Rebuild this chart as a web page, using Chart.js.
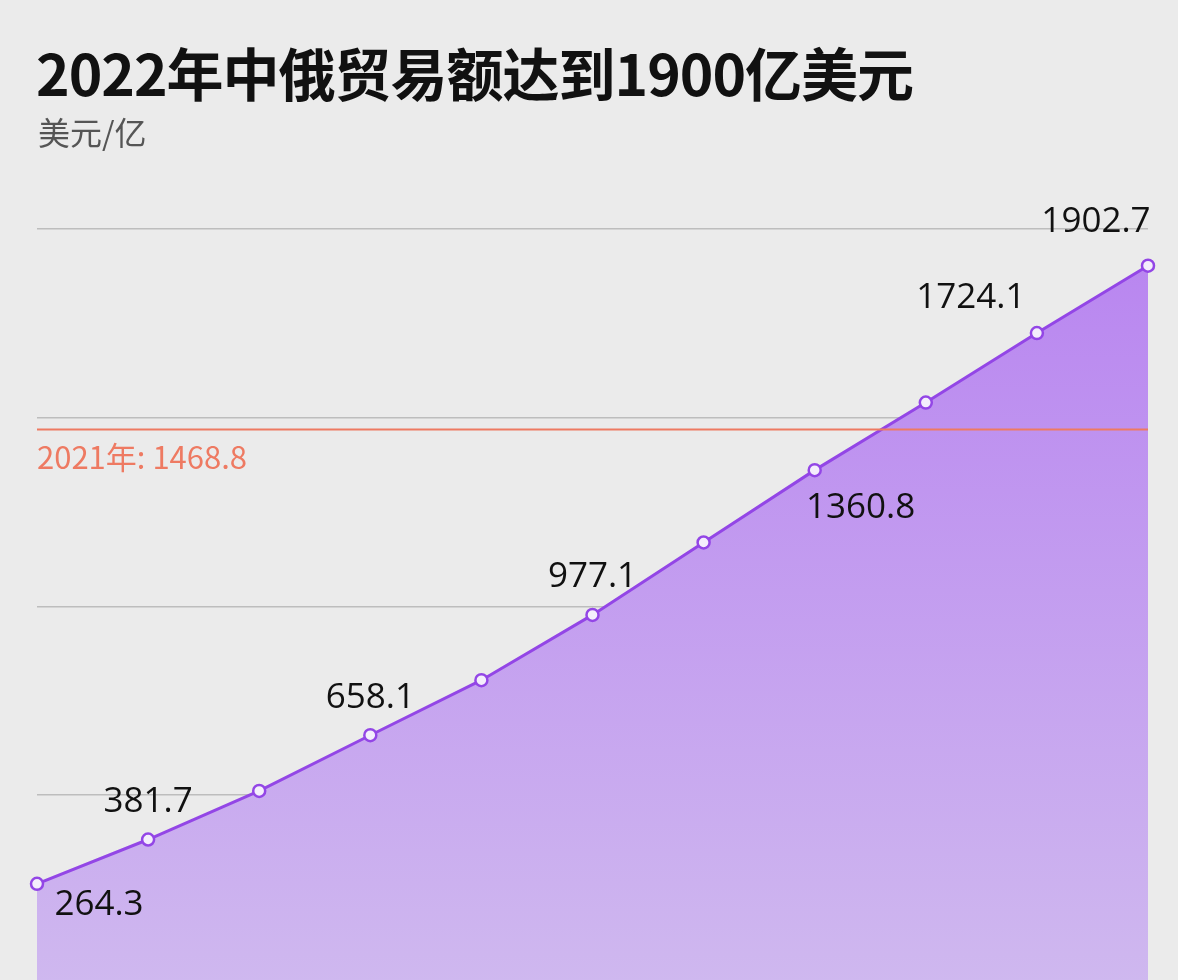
<!DOCTYPE html>
<html><head><meta charset="utf-8">
<script src="https://cdn.jsdelivr.net/npm/chart.js@4"></script>
<style>
html,body{margin:0;padding:0;background:#ebebeb;overflow:hidden;width:1178px;height:980px}
#wrap{position:absolute;left:0;top:0;width:1178px;height:992px}
#t{position:absolute;left:36px;top:30px;font:bold 57px "Noto Sans CJK SC";color:#111;margin:0;letter-spacing:-1px}
#s{position:absolute;left:38px;top:108px;font:32px "Noto Sans CJK SC";color:#555}
</style></head><body>
<div id="wrap"><canvas id="c" width="1178" height="992"></canvas></div>
<div id="t">2022年中俄贸易额达到1900亿美元</div>
<div id="s">美元/亿</div>
<script>
const categories=['1','2','3','4','5','6','7','8','9','10','11'];
const values=[264.3,381.7,510.6,658.1,804,977.1,1169,1360.8,1540,1724.1,1902.7];
const labels=['264.3','381.7',null,'658.1',null,'977.1',null,'1360.8',null,'1724.1','1902.7'];
const labelPos=['below','above',null,'above',null,'above',null,'below',null,'aboveLeft','above'];
const refValue=1468.8, refLabel='2021年: 1468.8';
const plug={id:'p',afterDatasetsDraw(ch){
  const c=ch.ctx,y=ch.scales.y,a=ch.chartArea;
  const ry=y.getPixelForValue(refValue);
  c.save();c.strokeStyle='#ee7a62';c.lineWidth=2;c.beginPath();c.moveTo(a.left,ry);c.lineTo(a.right,ry);c.stroke();
  c.fillStyle='#ee7a62';c.font='31px "Noto Sans CJK SC"';c.textAlign='left';c.textBaseline='top';c.fillText(refLabel,a.left,ry+12);
  const m=ch.getDatasetMeta(0);c.fillStyle='#111';c.font='35px "Open Sans"';c.textAlign='center';
  m.data.forEach((p,i)=>{if(!labels[i])return;let x=p.x,yy=p.y;
    if(labelPos[i]==='below'){c.textBaseline='top';c.fillText(labels[i],x+(i===0?62:46),yy+(i===0?4:20));}
    else if(labelPos[i]==='aboveLeft'){c.textBaseline='bottom';c.fillText(labels[i],x-66,yy-18);}
    else{c.textBaseline='bottom';c.fillText(labels[i],x-(i===10?52:0),yy-(i===10?26:20));}
  });c.restore();}};
new Chart(document.getElementById('c'),{type:'line',
 data:{labels:categories,datasets:[{data:values,borderColor:'#9346e6',borderWidth:3,
  backgroundColor:(ctx)=>{const a=ctx.chart.chartArea;if(!a)return '#c09af0';const g=ctx.chart.ctx.createLinearGradient(0,a.top,0,a.bottom);g.addColorStop(0,'#b884f0');g.addColorStop(1,'#cfb8ef');return g;},
  fill:'origin',tension:0,pointRadius:6,pointBackgroundColor:'#f4eefc',pointBorderColor:'#9346e6',pointBorderWidth:2.5}]},
 options:{responsive:false,animation:false,layout:{padding:{left:37,right:30,top:229,bottom:0}},
  plugins:{legend:{display:false},tooltip:{enabled:false}},
  scales:{x:{display:false,offset:false},
   y:{min:0,max:2000,ticks:{display:false,stepSize:500},border:{display:false},grid:{color:'#bdbdbd',lineWidth:1.5,drawTicks:false}}}},
 plugins:[plug]});
</script></body></html>
